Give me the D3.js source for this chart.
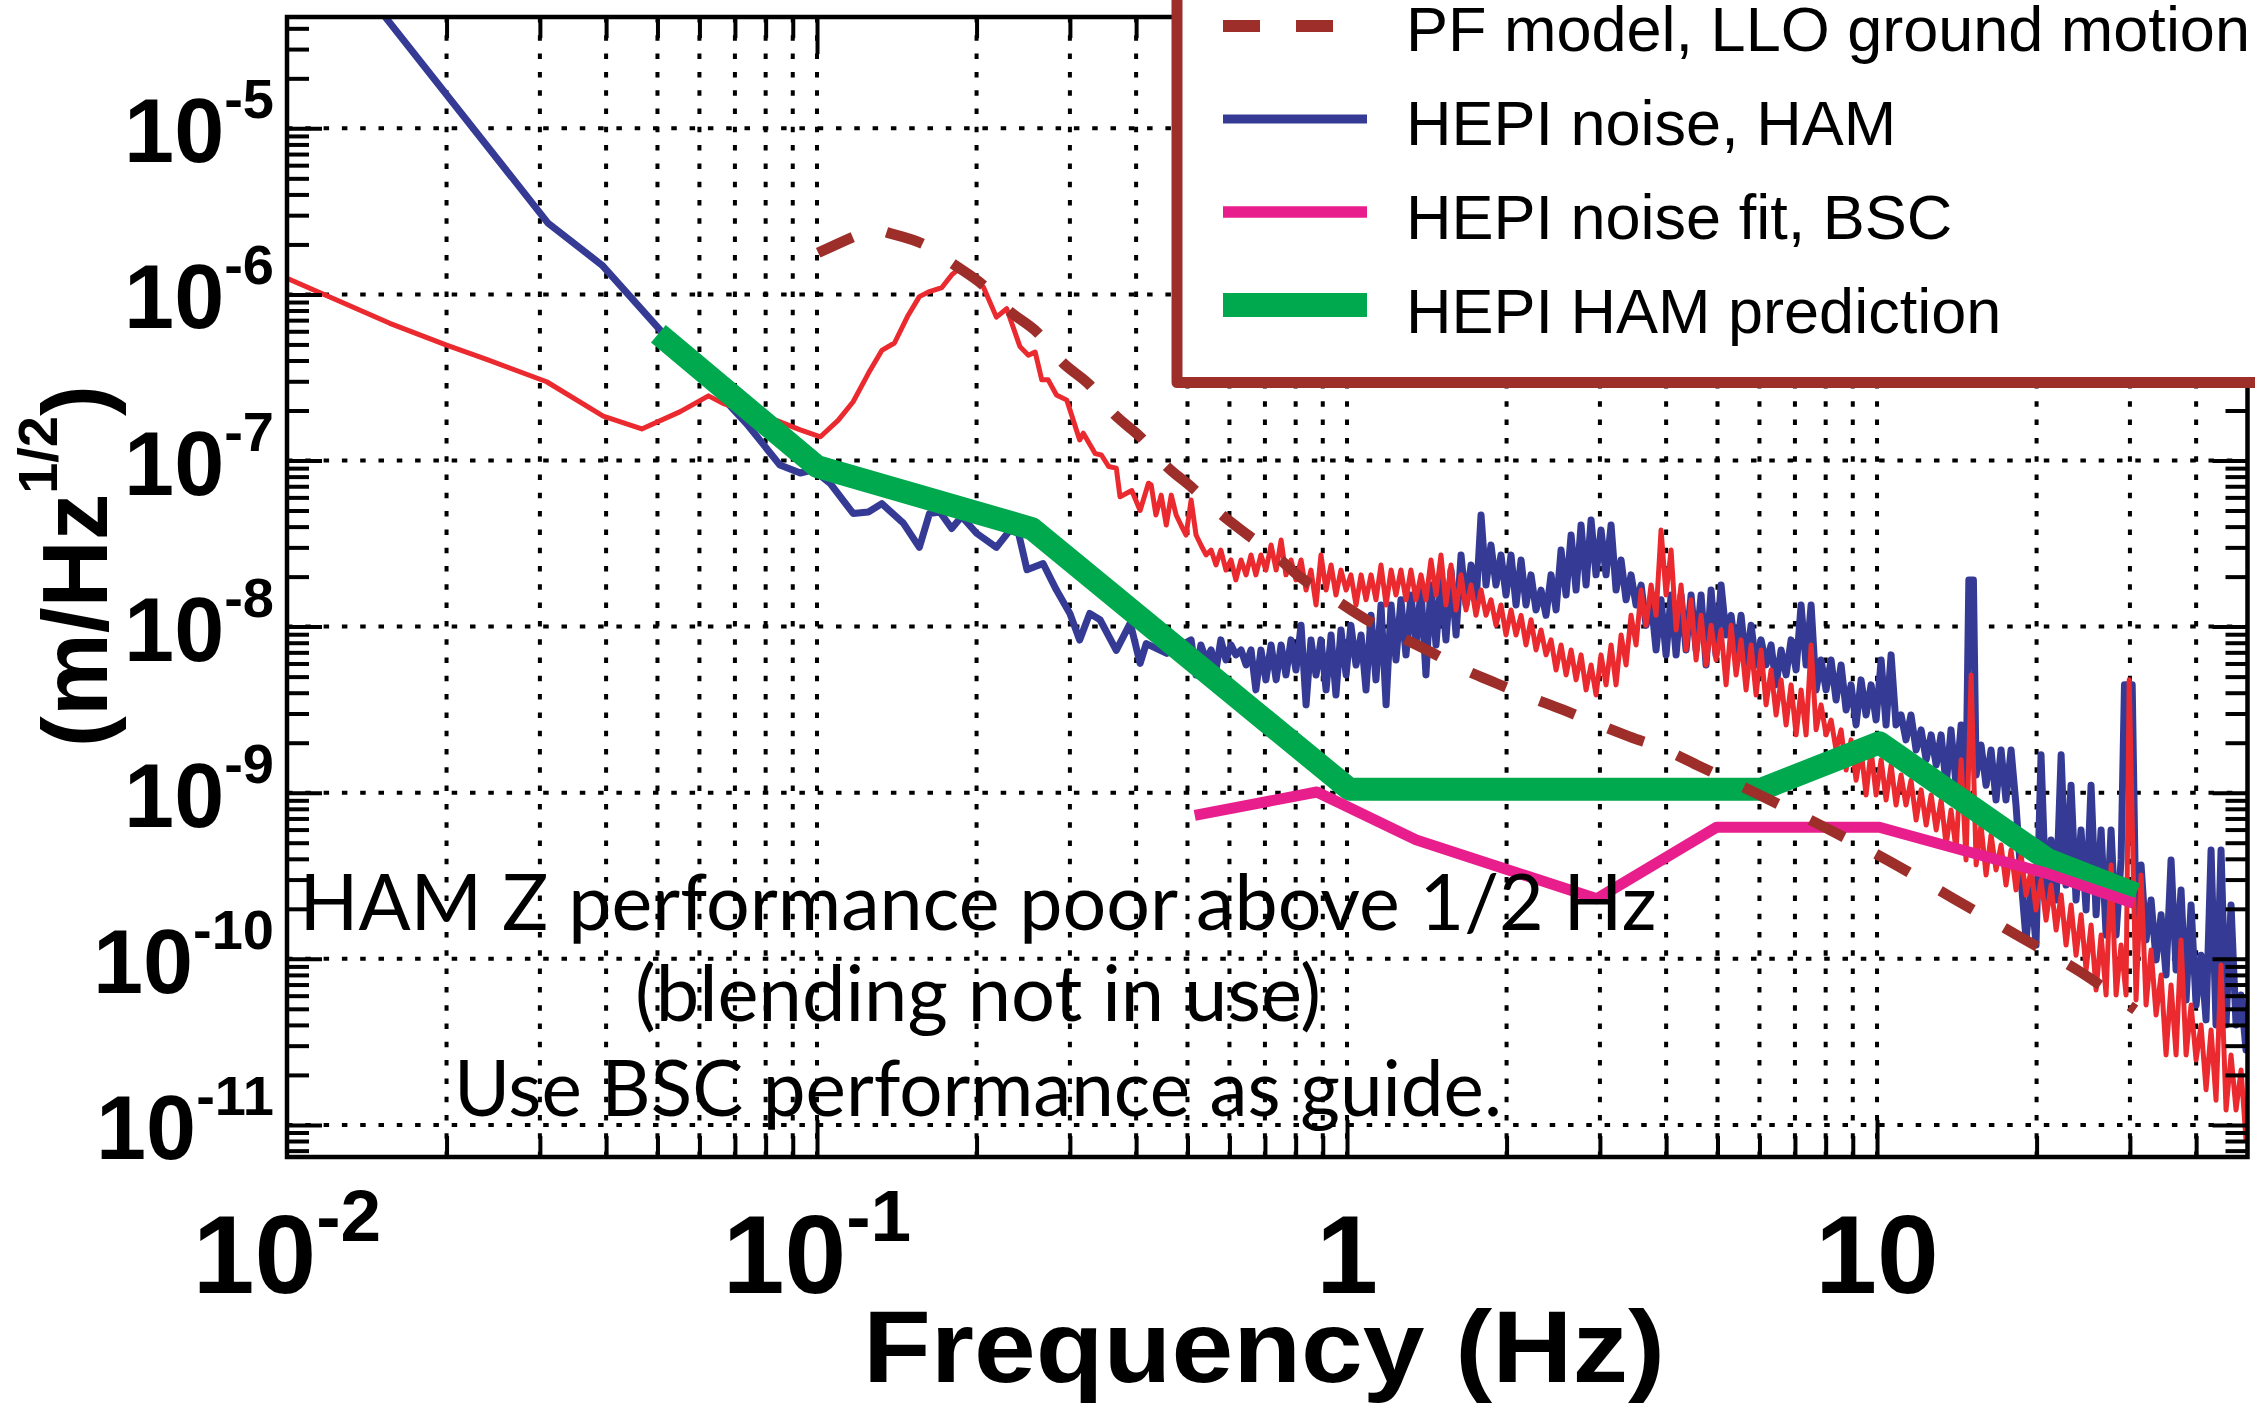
<!DOCTYPE html>
<html>
<head>
<meta charset="utf-8">
<script src="https://cdn.jsdelivr.net/npm/d3@7"></script>
<style>
  html, body { margin: 0; padding: 0; background: #fff; }
  svg { display: block; }
</style>
</head>
<body>
<svg id="chart" width="2255" height="1413"></svg>
<script>
// ---------------------------------------------------------------
// Data: [frequency (Hz), amplitude (m/Hz^1/2)]
// ---------------------------------------------------------------

// PF model of LLO ground motion (dashed)
const pfModel = [
  [0.1005,1.78e-6],[0.117,2.22e-6],[0.127,2.48e-6],[0.1374,2.33e-6],[0.16,1.98e-6],[0.182,1.5e-6],
  [0.2056,1.14e-6],[0.231,7.9e-7],[0.261,5.86e-7],[0.29,3.92e-7],[0.327,2.85e-7],[0.362,1.93e-7],
  [0.41,1.36e-7],[0.454,9.4e-8],[0.512,6.8e-8],[0.575,4.83e-8],[0.65,3.56e-8],[0.738,2.63e-8],
  [0.815,1.99e-8],[0.942,1.48e-8],[1.089,1.1e-8],[1.24,8.9e-9],[1.435,7.06e-9],[1.646,5.6e-9],
  [1.912,4.56e-9],[2.2,3.79e-9],[2.56,3.15e-9],[2.94,2.62e-9],[3.42,2.17e-9],[3.93,1.85e-9],
  [4.57,1.47e-9],[6.1,9.46e-10],[8.04,6.1e-10],[10.58,3.85e-10],[13.93,2.31e-10],[18.35,1.39e-10],
  [24.1,8.4e-11],[30.7,4.93e-11]
];

// HEPI noise, HAM (measured spectrum)
const hepiHamNoise = [
  [0.0150,5.1e-5],[0.0311,2.68e-6],[0.0393,1.50e-6],[0.0506,6.1e-7],[0.0736,1.67e-7],[0.0851,9.4e-8],
  [0.093,8.4e-8],[0.0983,8.8e-8],[0.1058,7.3e-8],[0.117,4.8e-8],[0.125,4.9e-8],[0.1325,5.5e-8],
  [0.1455,4.2e-8],[0.156,3.0e-8],[0.163,4.8e-8],[0.1706,4.9e-8],[0.1795,3.9e-8],[0.1875,4.6e-8],
  [0.2,3.65e-8],[0.218,3.0e-8],[0.231,3.8e-8],[0.24,3.65e-8],[0.249,2.2e-8],[0.267,2.4e-8],
  [0.283,1.66e-8],[0.3,1.2e-8],[0.313,8.3e-9],[0.327,1.2e-8],[0.342,1.1e-8],[0.367,7.2e-9],
  [0.39,1.05e-8],[0.407,6.0e-9],[0.418,7.9e-9],[0.457,6.9e-9],
  [0.508,8.32e-9],[0.519,5.12e-9],[0.530,7.76e-9],[0.542,6.3e-9],[0.554,7.24e-9],[0.566,5.48e-9],
  [0.578,8.32e-9],[0.591,6.3e-9],[0.604,7.76e-9],[0.617,6.76e-9],[0.631,7.24e-9],[0.645,5.88e-9],
  [0.659,7.24e-9],[0.673,4.16e-9],[0.688,7.24e-9],[0.703,4.78e-9],[0.719,7.76e-9],[0.735,4.78e-9],
  [0.751,7.76e-9],[0.767,5.12e-9],[0.784,8.32e-9],[0.801,5.48e-9],[0.819,1.02e-8],[0.837,3.38e-9],
  [0.855,8.32e-9],[0.874,5.12e-9],[0.893,8.32e-9],[0.913,4.16e-9],[0.933,8.91e-9],[0.953,3.88e-9],
  [0.974,9.55e-9],[0.996,5.12e-9],[1.017,1.02e-8],[1.040,5.88e-9],[1.063,8.91e-9],[1.086,4.16e-9],
  [1.110,1.17e-8],[1.134,4.78e-9],[1.159,1.35e-8],[1.185,3.38e-9],[1.211,1.35e-8],[1.237,6.3e-9],
  [1.264,1.45e-8],[1.292,6.76e-9],[1.320,1.55e-8],[1.349,7.76e-9],[1.379,1.66e-8],[1.409,5.12e-9],
  [1.440,1.78e-8],[1.472,7.76e-9],[1.504,1.91e-8],[1.537,8.32e-9],[1.571,2.19e-8],[1.606,8.91e-9],
  [1.641,2.70e-8],[1.677,1.35e-8],[1.714,2.35e-8],[1.751,1.35e-8],[1.790,4.70e-8],[1.829,1.78e-8],
  [1.869,3.10e-8],[1.910,1.78e-8],[1.952,2.70e-8],[1.995,1.55e-8],[2.039,2.70e-8],[2.084,1.35e-8],
  [2.130,2.52e-8],[2.176,1.35e-8],[2.224,2.05e-8],[2.273,1.26e-8],[2.323,1.66e-8],[2.374,1.17e-8],
  [2.426,2.05e-8],[2.480,1.26e-8],[2.534,2.89e-8],[2.590,1.55e-8],[2.647,3.56e-8],[2.705,1.66e-8],
  [2.764,4.09e-8],[2.825,1.78e-8],[2.887,4.39e-8],[2.950,2.05e-8],[3.015,3.82e-8],[3.081,2.05e-8],
  [3.149,4.09e-8],[3.218,1.66e-8],[3.289,2.52e-8],[3.361,1.45e-8],[3.435,2.05e-8],[3.510,1.35e-8],
  [3.588,1.78e-8],[3.666,1.02e-8],[3.747,1.45e-8],[3.829,7.24e-9],[3.913,1.45e-8],[3.999,6.76e-9],
  [4.087,1.55e-8],[4.177,6.76e-9],[4.268,1.55e-8],[4.362,7.24e-9],[4.458,1.55e-8],[4.556,7.24e-9],
  [4.656,1.55e-8],[4.758,5.88e-9],[4.863,1.66e-8],[4.969,6.76e-9],[5.079,1.78e-8],[5.190,8.91e-9],
  [5.304,1.17e-8],[5.421,6.76e-9],[5.540,1.17e-8],[5.661,5.88e-9],[5.786,1.02e-8],[5.913,5.88e-9],
  [6.043,8.32e-9],[6.175,5.88e-9],[6.311,7.76e-9],[6.450,4.46e-9],[6.591,7.24e-9],[6.736,5.12e-9],
  [6.884,8.32e-9],[7.035,5.48e-9],[7.189,1.35e-8],[7.347,5.88e-9],[7.509,1.35e-8],[7.674,4.16e-9],
  [7.842,6.3e-9],[8.014,4.16e-9],[8.190,6.3e-9],[8.370,3.62e-9],[8.554,5.88e-9],[8.742,3.15e-9],
  [8.934,4.46e-9],[9.130,2.56e-9],[9.330,4.78e-9],[9.535,2.94e-9],[9.745,4.46e-9],[9.959,2.74e-9],
  [10.18,6.3e-9],[10.40,2.56e-9],[10.63,6.76e-9],[10.86,2.56e-9],[11.10,2.94e-9],[11.34,2.08e-9],
  [11.59,2.94e-9],[11.85,1.81e-9],[12.11,2.39e-9],[12.38,1.58e-9],[12.65,2.23e-9],[12.93,1.47e-9],
  [13.21,2.23e-9],[13.50,1.11e-9],[13.79,2.39e-9],[14.10,1.11e-9],[14.41,2.56e-9],[14.72,1.11e-9],
  [14.9,1.91e-8],[15.2,1.91e-8],[15.38,1.28e-9],[15.71,1.94e-9],[16.06,1.11e-9],[16.41,1.81e-9],
  [16.77,9.04e-10],[17.14,1.81e-9],[17.51,9.04e-10],[17.90,1.81e-9],[18.29,8.43e-10],[18.70,2.98e-10],
  [19.11,1.30e-10],[19.53,2.78e-10],[19.95,1.21e-10],[20.39,1.69e-9],[20.84,2.26e-10],[21.30,5.19e-10],
  [21.77,2.26e-10],[22.25,1.69e-9],[22.73,2.78e-10],[23.23,1.11e-9],[23.74,2.26e-10],[24.26,5.97e-10],
  [24.80,1.97e-10],[25.34,1.11e-9],[25.90,1.84e-10],[26.47,5.97e-10],[27.05,1.39e-10],[27.64,5.97e-10],
  [28.25,1.39e-10],[28.87,3.94e-10],[29.3,4.46e-9],[30.3,4.46e-9],[30.81,1.49e-10],[31.49,3.67e-10],
  [32.18,1.30e-10],[32.89,2.26e-10],[33.61,9.84e-11],[34.35,1.84e-10],[35.10,8.0e-11],[35.87,3.94e-10],
  [36.66,8.57e-11],[37.46,2.60e-10],[38.29,5.65e-11],[39.13,2.11e-10],[39.99,5.27e-11],[40.86,1.05e-10],
  [41.76,4.29e-11],[42.68,4.52e-10],[43.61,4.0e-11],[44.57,4.52e-10],[45.55,4.0e-11],[46.55,2.11e-10],
  [47.57,4.0e-11],[48.62,6.06e-11],[49.68,2.83e-11],[50.77,6.06e-11]
];

// Measured LLO ground motion (thin red trace)
const groundMotion = [
  [0.01,1.25e-6],[0.01563,6.7e-7],[0.02,4.95e-7],[0.0238,4.06e-7],[0.0309,2.98e-7],[0.0395,1.85e-7],
  [0.0467,1.55e-7],[0.0552,1.97e-7],[0.0624,2.45e-7],[0.0666,2.2e-7],[0.084,1.74e-7],[0.093,1.53e-7],
  [0.1015,1.39e-7],[0.1097,1.75e-7],[0.117,2.26e-7],[0.125,3.35e-7],[0.1325,4.6e-7],[0.140,5.1e-7],
  [0.1486,7.5e-7],[0.156,9.7e-7],[0.163,1.04e-6],[0.172,1.10e-6],[0.1795,1.31e-6],[0.185,1.42e-6],
  [0.196,1.25e-6],[0.206,1.11e-6],[0.218,7.3e-7],[0.228,8.2e-7],[0.2415,4.85e-7],[0.2505,4.3e-7],
  [0.258,4.5e-7],[0.2655,3.06e-7],[0.273,3.06e-7],[0.283,2.48e-7],[0.296,2.31e-7],[0.313,1.33e-7],
  [0.318,1.46e-7],[0.335,1.10e-7],[0.344,1.08e-7],[0.355,9.2e-8],[0.367,9.0e-8],[0.373,6.05e-8],
  [0.3925,6.6e-8],[0.407,5.0e-8],[0.422,7.3e-8],
  [0.427,7.13e-8],[0.436,4.70e-8],[0.446,6.19e-8],[0.456,4.09e-8],[0.466,6.19e-8],[0.476,4.70e-8],
  [0.486,4.09e-8],[0.497,3.56e-8],[0.508,5.78e-8],[0.519,3.56e-8],[0.530,3.10e-8],[0.542,2.70e-8],
  [0.554,2.89e-8],[0.566,2.35e-8],[0.578,2.89e-8],[0.591,2.19e-8],[0.604,2.52e-8],[0.617,1.91e-8],
  [0.631,2.52e-8],[0.645,2.05e-8],[0.659,2.70e-8],[0.673,2.05e-8],[0.688,2.70e-8],[0.703,2.19e-8],
  [0.719,3.10e-8],[0.735,2.19e-8],[0.751,3.32e-8],[0.767,2.05e-8],[0.784,2.52e-8],[0.801,1.91e-8],
  [0.819,2.52e-8],[0.837,1.66e-8],[0.855,2.19e-8],[0.874,1.35e-8],[0.893,2.70e-8],[0.913,1.66e-8],
  [0.933,2.35e-8],[0.953,1.55e-8],[0.974,2.19e-8],[0.996,1.66e-8],[1.017,2.05e-8],[1.040,1.35e-8],
  [1.063,2.05e-8],[1.086,1.45e-8],[1.110,2.05e-8],[1.134,1.45e-8],[1.159,2.35e-8],[1.185,1.35e-8],
  [1.211,2.19e-8],[1.237,1.55e-8],[1.264,2.19e-8],[1.292,1.45e-8],[1.320,2.19e-8],[1.349,1.45e-8],
  [1.379,2.05e-8],[1.409,1.45e-8],[1.440,2.52e-8],[1.472,1.55e-8],[1.504,2.70e-8],[1.537,1.35e-8],
  [1.571,2.35e-8],[1.606,1.26e-8],[1.641,2.05e-8],[1.677,1.26e-8],[1.714,1.78e-8],[1.751,1.17e-8],
  [1.790,1.66e-8],[1.829,1.17e-8],[1.869,1.45e-8],[1.910,1.02e-8],[1.952,1.35e-8],[1.995,8.91e-9],
  [2.039,1.26e-8],[2.084,8.91e-9],[2.130,1.17e-8],[2.176,7.76e-9],[2.224,1.10e-8],[2.273,7.24e-9],
  [2.323,9.55e-9],[2.374,6.76e-9],[2.426,8.32e-9],[2.480,5.48e-9],[2.534,7.76e-9],[2.590,5.12e-9],
  [2.647,7.24e-9],[2.705,4.78e-9],[2.764,6.76e-9],[2.825,4.16e-9],[2.887,5.88e-9],[2.950,3.88e-9],
  [3.015,6.76e-9],[3.081,4.46e-9],[3.149,7.76e-9],[3.218,4.46e-9],[3.289,8.91e-9],[3.361,5.88e-9],
  [3.435,1.17e-8],[3.510,7.76e-9],[3.588,1.66e-8],[3.666,1.02e-8],[3.747,1.78e-8],[3.829,1.17e-8],
  [3.913,3.82e-8],[3.999,1.55e-8],[4.087,2.89e-8],[4.177,9.55e-9],[4.268,1.78e-8],[4.362,7.24e-9],
  [4.458,1.45e-8],[4.556,6.30e-9],[4.656,1.17e-8],[4.758,5.88e-9],[4.863,1.02e-8],[4.969,6.30e-9],
  [5.079,9.55e-9],[5.190,4.46e-9],[5.304,1.02e-8],[5.421,5.12e-9],[5.540,8.32e-9],[5.661,4.16e-9],
  [5.786,7.76e-9],[5.913,3.88e-9],[6.043,7.24e-9],[6.175,3.38e-9],[6.311,5.48e-9],[6.450,2.94e-9],
  [6.591,4.78e-9],[6.736,2.56e-9],[6.884,4.46e-9],[7.035,2.23e-9],[7.189,4.16e-9],[7.347,2.23e-9],
  [7.509,7.76e-9],[7.674,2.39e-9],[7.842,3.38e-9],[8.014,2.23e-9],[8.190,2.74e-9],[8.370,1.81e-9],
  [8.554,2.39e-9],[8.742,1.37e-9],[8.934,2.08e-9],[9.130,1.19e-9],[9.330,1.81e-9],[9.535,9.7e-10],
  [9.745,1.81e-9],[9.959,9.7e-10],[10.18,1.58e-9],[10.40,9.04e-10],[10.63,1.47e-9],[10.86,8.43e-10],
  [11.10,1.28e-9],[11.34,8.43e-10],[11.59,1.19e-9],[11.85,6.85e-10],[12.11,1.04e-9],[12.38,6.39e-10],
  [12.65,9.7e-10],[12.93,5.97e-10],[13.21,9.04e-10],[13.50,4.84e-10],[13.79,7.87e-10],[14.10,4.52e-10],
  [14.41,1.58e-9],[14.72,3.94e-10],[15.05,5.12e-9],[15.38,3.67e-10],[15.71,6.39e-10],[16.06,3.20e-10],
  [16.41,5.57e-10],[16.77,3.43e-10],[17.14,4.84e-10],[17.51,2.78e-10],[17.90,4.52e-10],[18.29,2.60e-10],
  [18.70,4.22e-10],[19.11,2.42e-10],[19.53,3.43e-10],[19.95,1.97e-10],[20.39,2.98e-10],[20.84,1.71e-10],
  [21.30,2.78e-10],[21.77,1.49e-10],[22.25,2.42e-10],[22.73,1.21e-10],[23.23,2.11e-10],[23.74,1.05e-10],
  [24.26,1.84e-10],[24.80,8.57e-11],[25.34,1.60e-10],[25.90,6.49e-11],[26.47,1.39e-10],[27.05,6.06e-11],
  [27.64,3.67e-10],[28.25,6.06e-11],[28.87,1.21e-10],[29.50,6.06e-11],[29.9,4.78e-9],[30.81,5.65e-11],
  [31.49,3.20e-10],[32.18,5.27e-11],[32.89,1.13e-10],[33.61,4.59e-11],[34.35,8.0e-11],[35.10,2.64e-11],
  [35.87,6.96e-11],[36.66,2.64e-11],[37.46,1.30e-10],[38.29,2.64e-11],[39.13,5.27e-11],[39.99,2.46e-11],
  [40.86,4.0e-11],[41.76,1.63e-11],[42.68,3.73e-11],[43.61,1.41e-11],[44.57,9.18e-11],[45.55,1.23e-11],
  [46.55,2.64e-11],[47.57,1.23e-11],[48.62,2.14e-11],[49.68,8.1e-12],[50.77,1.23e-11]
];

// HEPI noise fit, BSC
const bscFit = [
  [0.516,7.3e-10],[0.877,1.01e-9],[1.35,5.2e-10],[2.96,2.3e-10],[4.98,6.2e-10],
  [10.1,6.2e-10],[20.9,3.27e-10],[30.5,2.16e-10]
];

// HEPI HAM prediction
const hamPrediction = [
  [0.0502,5.8e-7],[0.1,9.2e-8],[0.254,3.9e-8],[1.01,1.05e-9],[6.05,1.05e-9],
  [10.1,2.0e-9],[21,3.95e-10],[30.8,2.45e-10]
];

// Axis labels
const xLabelValues = [0.01, 0.1, 1, 10];
const xLabelBase   = ["10", "10", "1", "10"];
const xLabelExp    = ["-2", "-1", "", ""];
const yLabelValues = [1e-5, 1e-6, 1e-7, 1e-8, 1e-9, 1e-10, 1e-11];
const yLabelExp    = ["-5", "-6", "-7", "-8", "-9", "-10", "-11"];

const legendLabels = ["PF model, LLO ground motion", "HEPI noise, HAM", "HEPI noise fit, BSC", "HEPI HAM prediction"];
const noteLines = ["HAM Z performance poor above 1/2 Hz", "(blending not in use)", "Use BSC performance as guide."];

// ---------------------------------------------------------------
// Layout
// ---------------------------------------------------------------
const W = 2255, H = 1413;
const plot = { left: 287, right: 2247.5, top: 17, bottom: 1157 };
const FONT = "'Liberation Sans', Arial, Helvetica, sans-serif";
const NOTE_FONT = "Lato, 'Open Sans', sans-serif";

const colors = {
  pf: "#9d2e29",
  ham: "#353b95",
  ground: "#ea2a2f",
  bsc: "#e91e8d",
  pred: "#00a84e",
  legendBorder: "#9e2e2a"
};

const x = d3.scaleLog().domain([0.01, 50]).range([plot.left, plot.right]);
const y = d3.scaleLog().domain([6.41e-12, 4.68e-5]).range([plot.bottom, plot.top]);

const svg = d3.select("#chart");
svg.append("rect").attr("width", W).attr("height", H).attr("fill", "#fff");

svg.append("defs").append("clipPath").attr("id", "plotClip")
  .append("rect")
  .attr("x", plot.left).attr("y", plot.top)
  .attr("width", plot.right - plot.left).attr("height", plot.bottom - plot.top);

const isDecade = t => Math.abs(Math.log10(t) - Math.round(Math.log10(t))) < 1e-9;

const xInner = x.ticks().filter(t => t > 0.01 * 1.0001 && t < 50 * 0.9999);
const xMajor = xInner.filter(isDecade);
const xMinor = xInner.filter(t => !isDecade(t));
const yAll = y.ticks();
const yMajor = yAll.filter(isDecade);
const yMinor = yAll.filter(t => !isDecade(t));

// ---------------------------------------------------------------
// Dotted grid
// ---------------------------------------------------------------
const grid = svg.append("g")
  .attr("stroke", "#000").attr("stroke-width", 4).attr("stroke-dasharray", "5.5 12.8");
grid.selectAll("line.gv").data(xInner).join("line").attr("class", "gv")
  .attr("x1", d => x(d)).attr("x2", d => x(d))
  .attr("y1", plot.top).attr("y2", plot.bottom);
grid.selectAll("line.gh").data(yMajor).join("line").attr("class", "gh")
  .attr("x1", plot.left).attr("x2", plot.right)
  .attr("y1", d => y(d)).attr("y2", d => y(d));

// ---------------------------------------------------------------
// Curves
// ---------------------------------------------------------------
const line = d3.line().x(d => x(d[0])).y(d => y(d[1]));
const smooth = d3.line().x(d => x(d[0])).y(d => y(d[1])).curve(d3.curveMonotoneX);
const curves = svg.append("g").attr("clip-path", "url(#plotClip)").attr("fill", "none");

curves.append("path").datum(hepiHamNoise).attr("d", line)
  .attr("stroke", colors.ham).attr("stroke-width", 7).attr("stroke-linejoin", "round");
curves.append("path").datum(groundMotion).attr("d", line)
  .attr("stroke", colors.ground).attr("stroke-width", 5).attr("stroke-linejoin", "round");
curves.append("path").datum(hamPrediction).attr("d", line)
  .attr("stroke", colors.pred).attr("stroke-width", 23).attr("stroke-linejoin", "round");
curves.append("path").datum(bscFit).attr("d", line)
  .attr("stroke", colors.bsc).attr("stroke-width", 11).attr("stroke-linejoin", "round");
curves.append("path").datum(pfModel).attr("d", smooth)
  .attr("stroke", colors.pf).attr("stroke-width", 10.5).attr("stroke-dasharray", "38 36");

// ---------------------------------------------------------------
// Axes: inward ticks on all four sides
// ---------------------------------------------------------------
function ticks(axis, transform, values, size) {
  svg.append("g").attr("transform", transform)
    .call(axis.tickValues(values).tickSizeInner(-size).tickSizeOuter(0).tickFormat(() => ""))
    .call(g => {
      g.select(".domain").remove();
      g.selectAll("text").remove();
      g.selectAll("line").attr("stroke", "#000").attr("stroke-width", 4);
    });
}
ticks(d3.axisBottom(x), `translate(0,${plot.bottom})`, xMinor, 21);
ticks(d3.axisBottom(x), `translate(0,${plot.bottom})`, xMajor, 37);
ticks(d3.axisTop(x), `translate(0,${plot.top})`, xMinor, 21);
ticks(d3.axisTop(x), `translate(0,${plot.top})`, xMajor, 37);
ticks(d3.axisLeft(y), `translate(${plot.left},0)`, yMinor, 22);
ticks(d3.axisLeft(y), `translate(${plot.left},0)`, yMajor, 35);
ticks(d3.axisRight(y), `translate(${plot.right},0)`, yMinor, 22);
ticks(d3.axisRight(y), `translate(${plot.right},0)`, yMajor, 35);

svg.append("rect")
  .attr("x", plot.left).attr("y", plot.top)
  .attr("width", plot.right - plot.left).attr("height", plot.bottom - plot.top)
  .attr("fill", "none").attr("stroke", "#000").attr("stroke-width", 4.5);

// x tick labels
xLabelValues.forEach((v, i) => {
  const t = svg.append("text")
    .attr("x", x(v)).attr("y", 1293)
    .attr("text-anchor", "middle")
    .attr("font-family", FONT).attr("font-weight", "bold").attr("font-size", 111);
  t.append("tspan").text(xLabelBase[i]);
  if (xLabelExp[i]) t.append("tspan").attr("dy", -52).attr("font-size", 73).text(xLabelExp[i]);
});

// y tick labels
yLabelValues.forEach((v, i) => {
  const yy = y(v);
  const sup = svg.append("text")
    .attr("x", 274).attr("y", yy - 10)
    .attr("text-anchor", "end")
    .attr("font-family", FONT).attr("font-weight", "bold").attr("font-size", 56)
    .text(yLabelExp[i]);
  const w = sup.node().getComputedTextLength();
  svg.append("text")
    .attr("x", 274 - w).attr("y", yy + 34)
    .attr("text-anchor", "end")
    .attr("font-family", FONT).attr("font-weight", "bold").attr("font-size", 90)
    .text("10");
});

// axis titles
svg.append("text")
  .attr("x", 863).attr("y", 1382)
  .attr("font-family", FONT).attr("font-weight", "bold").attr("font-size", 102)
  .attr("textLength", 802).attr("lengthAdjust", "spacingAndGlyphs")
  .text("Frequency (Hz)");

const yTitle = svg.append("text")
  .attr("transform", "translate(107,747) rotate(-90)")
  .attr("font-family", FONT).attr("font-weight", "bold").attr("font-size", 93);
yTitle.append("tspan").text("(m/Hz");
yTitle.append("tspan").attr("dy", -50).attr("font-size", 56).text("1/2");
yTitle.append("tspan").attr("dy", 50).text(")");

// ---------------------------------------------------------------
// Legend
// ---------------------------------------------------------------
const legendStyles = [
  { color: colors.pf, width: 12, dash: "37 36" },
  { color: colors.ham, width: 9, dash: null },
  { color: colors.bsc, width: 11.5, dash: null },
  { color: colors.pred, width: 24, dash: null }
];
const legend = svg.append("g");
legend.append("rect")
  .attr("x", 1177).attr("y", -40).attr("width", 1200).attr("height", 422.5)
  .attr("fill", "#fff").attr("stroke", colors.legendBorder).attr("stroke-width", 11)
  .attr("stroke-linejoin", "round");
legendLabels.forEach((label, i) => {
  const cy = 26 + i * 93;
  const st = legendStyles[i];
  const l = legend.append("line")
    .attr("x1", 1223).attr("x2", 1367).attr("y1", cy).attr("y2", cy)
    .attr("stroke", st.color).attr("stroke-width", st.width);
  if (st.dash) l.attr("stroke-dasharray", st.dash);
  legend.append("text")
    .attr("x", 1406).attr("y", 51 + i * 94)
    .attr("font-family", FONT).attr("font-size", 63).attr("fill", "#000")
    .text(label);
});

// ---------------------------------------------------------------
// Annotation
// ---------------------------------------------------------------
const noteBaselines = [930, 1021, 1116];
const noteWidths = [1357, 686, 1048];
noteLines.forEach((s, i) => {
  svg.append("text")
    .attr("x", 978).attr("y", noteBaselines[i])
    .attr("text-anchor", "middle")
    .attr("font-family", NOTE_FONT).attr("font-size", 77).attr("fill", "#000")
    .attr("textLength", noteWidths[i]).attr("lengthAdjust", "spacingAndGlyphs")
    .text(s);
});
</script>
</body>
</html>
